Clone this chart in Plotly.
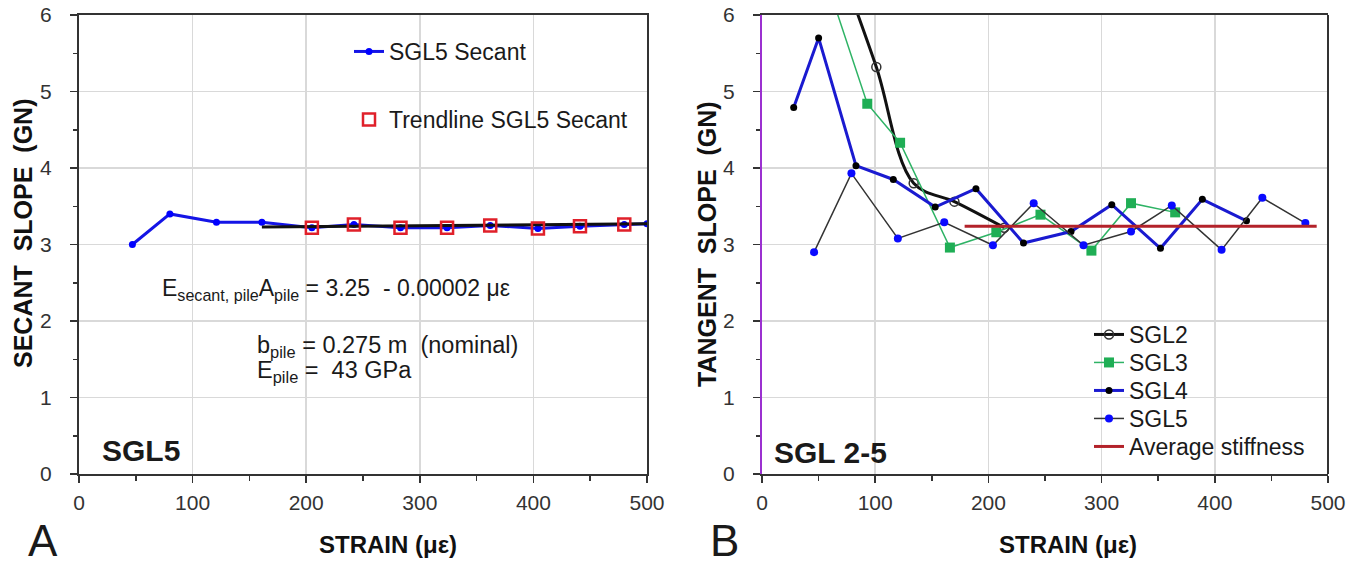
import plotly.graph_objects as go

# ---------------- data ----------------
# Panel A
secant_x = [47, 80, 121, 161, 205, 242, 283, 324, 362, 404, 441, 480, 500]
secant_y = [3.00, 3.40, 3.29, 3.29, 3.22, 3.26, 3.22, 3.22, 3.25, 3.21, 3.24, 3.26, 3.27]
trend_sq_x = [205, 242, 283, 324, 362, 404, 441, 480]
trend_sq_y = [3.22, 3.26, 3.22, 3.22, 3.25, 3.21, 3.24, 3.26]
trend_line_x = [161, 500]
trend_line_y = [3.23, 3.27]

# Panel B
sgl2_x = [70, 101, 134, 170, 214]
sgl2_y = [6.6, 5.32, 3.80, 3.56, 3.22]
sgl3_x = [58, 93, 122, 166, 207, 246, 291, 326, 365]
sgl3_y = [6.4, 4.84, 4.33, 2.96, 3.16, 3.39, 2.92, 3.54, 3.42]
sgl4_x = [28, 50, 83, 116, 153, 189, 231, 273, 309, 352, 389, 428]
sgl4_y = [4.79, 5.70, 4.03, 3.85, 3.49, 3.73, 3.02, 3.17, 3.52, 2.95, 3.59, 3.31]
sgl5_x = [46, 79, 120, 161, 204, 240, 284, 326, 362, 406, 442, 480]
sgl5_y = [2.90, 3.93, 3.08, 3.29, 2.99, 3.54, 2.99, 3.17, 3.51, 2.93, 3.61, 3.28]
avg_x = [179, 490]
avg_y = [3.24, 3.24]

x_ticks = [0, 100, 200, 300, 400, 500]
y_ticks = [0, 1, 2, 3, 4, 5, 6]

FONT = "Liberation Sans, Arial, sans-serif"
W, H = 1359, 564
ML, MR, MT, MB = 79, 31, 15, 90
PW, PH = W - ML - MR, H - MT - MB


def px(x):
    return (x - ML) / PW


def py(y):
    return (H - MB - y) / PH


fig = go.Figure()

# ---- Panel A ----
fig.add_trace(go.Scatter(
    x=secant_x, y=secant_y, mode="lines+markers", name="SGL5 Secant",
    line=dict(color="#1414e6", width=3), marker=dict(color="#0000ff", size=7),
    xaxis="x", yaxis="y", legend="legend"))
fig.add_trace(go.Scatter(
    x=trend_line_x, y=trend_line_y, mode="lines", showlegend=False,
    line=dict(color="#111111", width=3), xaxis="x", yaxis="y"))
fig.add_trace(go.Scatter(
    x=trend_sq_x, y=trend_sq_y, mode="markers", name="Trendline SGL5 Secant",
    marker=dict(symbol="square-open", color="#e0202a", size=12, line=dict(width=2.5)),
    xaxis="x", yaxis="y", legend="legend2"))

# ---- Panel B ----
fig.add_trace(go.Scatter(
    x=sgl2_x, y=sgl2_y, mode="lines+markers", name="SGL2",
    line=dict(color="#111111", width=3, shape="spline", smoothing=1),
    marker=dict(symbol="circle-open", color="#333333", size=9, line=dict(width=1.5)),
    xaxis="x2", yaxis="y2", legend="legend3"))
fig.add_trace(go.Scatter(
    x=sgl3_x, y=sgl3_y, mode="lines+markers", name="SGL3",
    line=dict(color="#2eb365", width=1.5),
    marker=dict(symbol="square", color="#1fae55", size=10),
    xaxis="x2", yaxis="y2", legend="legend4"))
fig.add_trace(go.Scatter(
    x=sgl4_x, y=sgl4_y, mode="lines+markers", name="SGL4",
    line=dict(color="#1a1ad0", width=3),
    marker=dict(symbol="circle", color="#000000", size=7),
    xaxis="x2", yaxis="y2", legend="legend5"))
fig.add_trace(go.Scatter(
    x=sgl5_x, y=sgl5_y, mode="lines+markers", name="SGL5",
    line=dict(color="#333333", width=1.5),
    marker=dict(symbol="circle", color="#0a0aff", size=8),
    xaxis="x2", yaxis="y2", legend="legend6"))
fig.add_trace(go.Scatter(
    x=avg_x, y=avg_y, mode="lines", name="Average stiffness",
    line=dict(color="#b3222a", width=3),
    xaxis="x2", yaxis="y2", legend="legend7"))

common_x = dict(range=[0, 500], tickvals=x_ticks, showgrid=True, gridcolor="#d9d9d9",
                gridwidth=1.5, zeroline=False, showline=True, linecolor="#333333",
                linewidth=2, ticks="outside", ticklen=7, tickwidth=1.5, tickcolor="#333333",
                minor=dict(dtick=50, ticks="outside", ticklen=5, tickwidth=1.5,
                           tickcolor="#333333", showgrid=False),
                tickfont=dict(family=FONT, size=21, color="#333333"),
                ticklabelstandoff=2, fixedrange=True, automargin=False)
common_y = dict(range=[0, 6], tickvals=y_ticks, showgrid=True, gridcolor="#d9d9d9",
                gridwidth=1.5, zeroline=False, showline=True, linecolor="#333333",
                linewidth=2, ticks="outside", ticklen=7, tickwidth=1.5, tickcolor="#333333",
                minor=dict(dtick=0.5, ticks="outside", ticklen=4, tickwidth=1.5,
                           tickcolor="#333333", showgrid=False),
                tickfont=dict(family=FONT, size=21, color="#333333"),
                ticklabelstandoff=14, fixedrange=True, automargin=False, domain=[0, 1])


def leg(text_left, center_y):
    return dict(x=px(text_left - 38), y=py(center_y - 22), xanchor="left", yanchor="top",
                bgcolor="rgba(0,0,0,0)", borderwidth=0,
                font=dict(family=FONT, size=23, color="#1a1a1a"))


fig.update_layout(
    width=W, height=H, margin=dict(l=ML, r=MR, t=MT, b=MB, autoexpand=False),
    paper_bgcolor="white", plot_bgcolor="white",
    font=dict(family=FONT, size=22, color="#1a1a1a"),
    xaxis=dict(common_x, domain=[0, (647 - ML) / PW], anchor="y", mirror=True),
    yaxis=dict(common_y, anchor="x", mirror=True),
    xaxis2=dict(common_x, domain=[(762 - ML) / PW, 1.0], anchor="y2", mirror=True),
    yaxis2=dict(common_y, anchor="x2", mirror=False, linecolor="#9b30d0", linewidth=2),
    legend=leg(387, 52),
    legend2=leg(387, 120),
    legend3=leg(1127, 335),
    legend4=leg(1127, 363),
    legend5=leg(1127, 391),
    legend6=leg(1127, 419),
    legend7=leg(1127, 447),
    shapes=[dict(type="line", xref="x2 domain", yref="y2 domain", x0=1, x1=1, y0=0, y1=1,
                 line=dict(color="#333333", width=2))],
)


def ann(text, x, y, size=24, xanchor="left", angle=0, color="#1a1a1a"):
    return dict(text=text, x=px(x), y=py(y), xref="paper", yref="paper",
                xanchor=xanchor, yanchor="middle", showarrow=False, textangle=angle,
                font=dict(family=FONT, size=size, color=color))


fig.update_layout(annotations=[
    ann("E<sub>secant, pile</sub>A<sub>pile</sub> = 3.25  - 0.00002 με", 160, 289, size=23),
    ann("b<sub>pile</sub> = 0.275 m  (nominal)", 255, 346, size=23.5),
    ann("E<sub>pile</sub> =  43 GPa", 255, 371, size=23.5),
    ann("<b>SGL5</b>", 100, 450, size=30),
    ann("<b>SGL 2-5</b>", 772, 452, size=30),
    ann("A", 26, 540, size=44),
    ann("B", 708, 540, size=44),
    ann("<b>STRAIN (με)</b>", 388, 544, size=24, xanchor="center", color="#111111"),
    ann("<b>STRAIN (με)</b>", 1068, 544, size=24, xanchor="center", color="#111111"),
    ann("<b>SECANT  SLOPE  (GN)</b>", 23, 234, size=25, xanchor="center", angle=-90,
        color="#111111"),
    ann("<b>TANGENT  SLOPE  (GN)</b>", 707, 244, size=25, xanchor="center", angle=-90,
        color="#111111"),
])

fig.write_html(
    "out.html",
    config={"displayModeBar": False, "staticPlot": True},
    post_script="document.body.style.margin='0';document.body.style.padding='0';"
                "document.documentElement.style.overflow='hidden';",
)
